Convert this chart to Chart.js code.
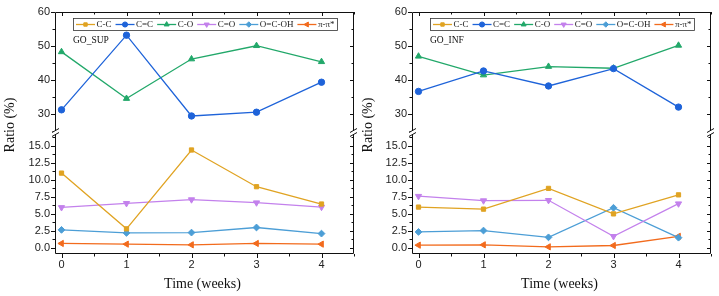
<!DOCTYPE html>
<html>
<head>
<meta charset="utf-8">
<script src="https://cdn.jsdelivr.net/npm/chart.js@4.4.1/dist/chart.umd.min.js"></script>
<style>
  html, body { margin: 0; padding: 0; background: #fff; }
  #wrap { position: relative; width: 719px; height: 296px; overflow: hidden; }
  .panel { position: absolute; top: 0; height: 296px; }
</style>
</head>
<body>
<div id="wrap">
  <div class="panel" style="left:0;width:360px;"><canvas id="c1"></canvas></div>
  <div class="panel" style="left:360px;width:359px;"><canvas id="c2"></canvas></div>
</div>
<script>
// ---- data ----
const weeks = [0, 1, 2, 3, 4];
const seriesNames = ['C-C', 'C=C', 'C-O', 'C=O', 'O=C-OH', 'π-π*'];
const panelTitles = ['GO_SUP', 'GO_INF'];

// GO_SUP
const supCC   = [11.0, 2.8, 14.4, 9.0, 6.45];
const supCeqC = [31.3, 53.2, 29.5, 30.6, 39.4];
const supCO   = [48.3, 34.6, 46.2, 50.1, 45.4];
const supCeqO = [5.95, 6.55, 7.1, 6.65, 6.0];
const supOCOH = [2.65, 2.2, 2.25, 3.0, 2.1];
const supPi   = [0.65, 0.55, 0.45, 0.65, 0.55];

// GO_INF
const infCC   = [6.0, 5.7, 8.75, 5.0, 7.8];
const infCeqC = [36.7, 42.7, 38.3, 43.4, 32.1];
const infCO   = [47.0, 41.5, 44.0, 43.5, 50.2];
const infCeqO = [7.6, 6.95, 7.0, 1.7, 6.5];
const infOCOH = [2.35, 2.55, 1.55, 5.9, 1.5];
const infPi   = [0.4, 0.45, 0.15, 0.35, 1.7];

// ticks
const xTicks = [0, 1, 2, 3, 4];
const upperTicks = [30, 40, 50, 60];
const lowerTicks = [0, 2.5, 5, 7.5, 10, 12.5, 15];

// ---- style ----
const colors = ['#E0A322', '#1E63D9', '#22A86A', '#C381EC', '#4C9ED6', '#F26B1D'];
const pStyles = ['rect', 'circle', 'triangle', 'triangle', 'rectRot', 'triangle'];
const pRot = [0, 0, 0, 180, 0, -90];
const pRad = [3, 3.2, 3.6, 3.6, 3.4, 3.6];
const upperSeries = [false, true, true, false, false, false];

const serif = "'Liberation Serif', 'DejaVu Serif', serif";
const sans = "'Liberation Sans', Arial, sans-serif";

function pts(arr) { return weeks.map((w, i) => ({ x: w, y: arr[i] })); }

const framePlugin = {
  id: 'frame',
  afterDatasetsDraw(chart, args, opts) {
    const ctx = chart.ctx;
    const a = chart.chartArea;
    const xs = chart.scales.x, yT = chart.scales.yTop, yB = chart.scales.yBot;
    const yb = yT.bottom;
    ctx.save();
    ctx.strokeStyle = '#111';
    ctx.lineWidth = 1;
    // frame
    ctx.beginPath();
    ctx.moveTo(a.left + 0.5, a.top + 0.5);
    ctx.lineTo(a.right - 0.5, a.top + 0.5);
    ctx.lineTo(a.right - 0.5, a.bottom - 0.5);
    ctx.lineTo(a.left + 0.5, a.bottom - 0.5);
    ctx.closePath();
    ctx.stroke();
    // ticks
    ctx.beginPath();
    const xt = xTicks;
    for (let i = 0; i < xt.length; i++) {
      const vals = [xt[i]];
      if (xt[i] + 0.5 <= xs.max) vals.push(xt[i] + 0.5);
      vals.forEach((v, k) => {
        const px = Math.round(xs.getPixelForValue(v)) + 0.5;
        const len = k === 0 ? 4 : 2.5;
        ctx.moveTo(px, a.bottom); ctx.lineTo(px, a.bottom + len);
        ctx.moveTo(px, a.top); ctx.lineTo(px, a.top + len);
      });
    }
    function yTicks(scale, ticks, step) {
      const all = [];
      ticks.forEach(t => { all.push([t, 4]); });
      ticks.forEach(t => { const m = t - step / 2; if (m > scale.min) all.push([m, 2.5]); });
      const last = ticks[ticks.length - 1];
      if (last + step / 2 < scale.max) all.push([last + step / 2, 2.5]);
      all.forEach(([v, len]) => {
        const py = Math.round(scale.getPixelForValue(v)) + 0.5;
        ctx.moveTo(a.left, py); ctx.lineTo(a.left - len, py);
        ctx.moveTo(a.right, py); ctx.lineTo(a.right - len, py);
      });
    }
    yTicks(yT, upperTicks, 10);
    yTicks(yB, lowerTicks, 2.5);
    ctx.stroke();
    // breaks
    [a.left + 0.5, a.right - 0.5].forEach(x => {
      ctx.fillStyle = '#fff';
      ctx.fillRect(x - 2, yb - 2, 4, 4);
      ctx.beginPath();
      ctx.moveTo(x - 3.5, yb - 0.5); ctx.lineTo(x + 3.5, yb - 4.5);
      ctx.moveTo(x - 3.5, yb + 3.5); ctx.lineTo(x + 3.5, yb - 0.5);
      ctx.stroke();
    });
    // axis titles
    ctx.fillStyle = '#111';
    ctx.font = '14px ' + serif;
    ctx.textAlign = 'center';
    ctx.textBaseline = 'middle';
    ctx.fillText('Time (weeks)', (a.left + a.right) / 2 - 2, 284);
    ctx.save();
    ctx.translate(opts.yTitleX, 125);
    ctx.rotate(-Math.PI / 2);
    ctx.fillText('Ratio (%)', 0, 0);
    ctx.restore();
    // panel label
    ctx.font = '9.5px ' + serif;
    ctx.textAlign = 'left';
    ctx.fillText(opts.label, a.left + 18, 40);
    // legend
    const bx0 = a.left + 18, bx1 = a.right - 17, by0 = a.top + 6, by1 = by0 + 12;
    ctx.fillStyle = '#fff';
    ctx.fillRect(bx0, by0, bx1 - bx0, by1 - by0);
    ctx.strokeStyle = '#333';
    ctx.lineWidth = 0.8;
    ctx.strokeRect(bx0 + 0.5, by0 + 0.5, bx1 - bx0, by1 - by0);
    ctx.font = '9px ' + serif;
    const lineLen = 19;
    const widths = seriesNames.map(n => lineLen + 2 + ctx.measureText(n).width);
    const total = widths.reduce((s, w) => s + w, 0);
    const gap = (bx1 - bx0 - 5 - total) / (seriesNames.length - 1);
    let cx = bx0 + 3;
    const cy = (by0 + by1) / 2 + 0.5;
    seriesNames.forEach((n, i) => {
      ctx.strokeStyle = colors[i];
      ctx.fillStyle = colors[i];
      ctx.lineWidth = 1.3;
      ctx.beginPath();
      ctx.moveTo(cx, cy); ctx.lineTo(cx + lineLen, cy);
      ctx.stroke();
      ctx.lineWidth = 1;
      Chart.helpers.drawPoint(ctx, { pointStyle: pStyles[i], rotation: pRot[i], radius: pRad[i] * 0.8, borderWidth: 1 }, cx + lineLen / 2, cy);
      ctx.fillStyle = '#222';
      ctx.textBaseline = 'middle';
      ctx.fillText(n, cx + lineLen + 1.5, cy);
      cx += widths[i] + gap;
    });
    ctx.restore();
  }
};

function makeChart(id, label, data, yAxisWidth, padRight, yTitleX) {
  const datasets = seriesNames.map((n, i) => ({
    label: n,
    data: pts(data[i]),
    yAxisID: upperSeries[i] ? 'yTop' : 'yBot',
    borderColor: colors[i],
    backgroundColor: colors[i],
    borderWidth: 1.3,
    pointStyle: pStyles[i],
    pointRotation: pRot[i],
    pointRadius: pRad[i],
    pointBorderWidth: 1,
    tension: 0,
    fill: false
  }));
  const tickFont = { family: sans, size: 11 };
  return new Chart(document.getElementById(id), {
    type: 'line',
    data: { datasets },
    options: {
      responsive: true,
      maintainAspectRatio: false,
      animation: false,
      events: [],
      layout: { padding: { top: 12, right: padRight, left: 0, bottom: 0 } },
      plugins: {
        legend: { display: false },
        tooltip: { enabled: false },
        frame: { label, yTitleX }
      },
      scales: {
        x: {
          type: 'linear', min: -0.1, max: 4.5,
          grid: { display: false, drawTicks: false }, border: { display: false },
          afterBuildTicks: s => { s.ticks = xTicks.map(v => ({ value: v })); },
          afterFit: s => { s.height = 42; },
          ticks: { padding: 4, color: '#222', font: tickFont, autoSkip: false, maxRotation: 0 }
        },
        yBot: {
          type: 'linear', position: 'left', stack: 'ys', stackWeight: 1,
          min: -0.9, max: 16.9,
          grid: { display: false, drawTicks: false }, border: { display: false },
          afterBuildTicks: s => { s.ticks = lowerTicks.map(v => ({ value: v })); },
          afterFit: s => { s.width = yAxisWidth; },
          ticks: { padding: 5, color: '#222', font: tickFont, autoSkip: false, callback: v => Number(v).toFixed(1) }
        },
        yTop: {
          type: 'linear', position: 'left', stack: 'ys', stackWeight: 1,
          min: 24.5, max: 60,
          grid: { display: false, drawTicks: false }, border: { display: false },
          afterBuildTicks: s => { s.ticks = upperTicks.map(v => ({ value: v })); },
          afterFit: s => { s.width = yAxisWidth; },
          ticks: { padding: 5, color: '#222', font: tickFont, autoSkip: false, callback: v => String(v) }
        }
      }
    },
    plugins: [framePlugin]
  });
}

makeChart('c1', panelTitles[0], [supCC, supCeqC, supCO, supCeqO, supOCOH, supPi], 55, 6, 10);
makeChart('c2', panelTitles[1], [infCC, infCeqC, infCO, infCeqO, infOCOH, infPi], 52, 8, 8);
</script>
</body>
</html>
